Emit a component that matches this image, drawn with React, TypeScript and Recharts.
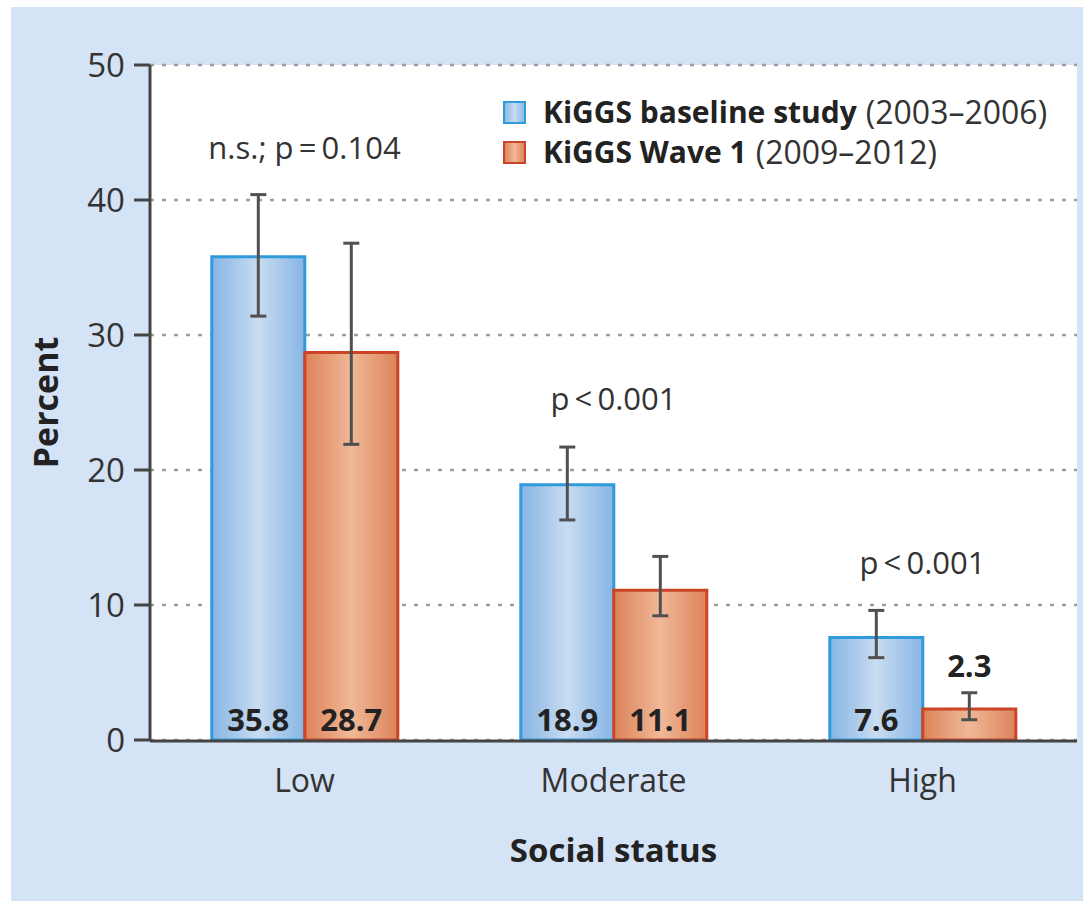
import React from 'react';
import {
  BarChart,
  Bar,
  XAxis,
  YAxis,
  CartesianGrid,
  ErrorBar,
  LabelList,
  Legend,
  ReferenceDot,
} from 'recharts';

const categories = ['Low', 'Moderate', 'High'];
const baselineValues = [35.8, 18.9, 7.6];
const wave1Values = [28.7, 11.1, 2.3];
const baselineCiLow = [31.4, 16.3, 6.1];
const baselineCiHigh = [40.4, 21.7, 9.6];
const wave1CiLow = [21.9, 9.2, 1.5];
const wave1CiHigh = [36.8, 13.6, 3.5];
const pValueLabels = ['n.s.; p\u2009=\u20090.104', 'p\u2009<\u20090.001', 'p\u2009<\u20090.001'];
const pValueHeights = [43.9, 25.3, 13.2];
const yTicks = [0, 10, 20, 30, 40, 50];
const boundaryTicks = [0, 1, 2, 3];

const seriesNames = ['KiGGS baseline study', 'KiGGS Wave 1'];
const seriesPeriods = ['(2003\u20132006)', '(2009\u20132012)'];

const data = categories.map((c, i) => ({
  category: c,
  baseline: baselineValues[i],
  wave1: wave1Values[i],
  baselineErr: [baselineValues[i] - baselineCiLow[i], baselineCiHigh[i] - baselineValues[i]],
  wave1Err: [wave1Values[i] - wave1CiLow[i], wave1CiHigh[i] - wave1Values[i]],
}));

const FONT = '"Open Sans", "Noto Sans", sans-serif';
const TEXT = '#333333';
const AXIS = '#444444';
const BLUE_STROKE = '#2f9bdb';
const ORANGE_STROKE = '#cc4426';

const renderValueLabel = (props: any) => {
  const vb = props.viewBox || props;
  const x = Number(vb.x);
  const y = Number(vb.y);
  const width = Number(vb.width);
  const height = Number(vb.height);
  const value = Number(props.value);
  const cy = value < 5 ? y - 44 : y + height - 21;
  return (
    <text
      x={x + width / 2}
      y={cy}
      textAnchor="middle"
      dominantBaseline="central"
      fill="#222"
      fontFamily={FONT}
      fontWeight={700}
      fontSize={31}
    >
      {value.toFixed(1)}
    </text>
  );
};

const renderLegend = () => (
  <div style={{ fontFamily: FONT, color: '#222', lineHeight: '40px' }}>
    {seriesNames.map((name, i) => (
      <div key={name} style={{ display: 'flex', alignItems: 'center', whiteSpace: 'nowrap' }}>
        <span
          style={{
            display: 'inline-block',
            width: 19,
            height: 19,
            border: `2.5px solid ${i === 0 ? BLUE_STROKE : ORANGE_STROKE}`,
            background:
              i === 0
                ? 'linear-gradient(to right, #8cb9e6, #c8dbf1, #8cb9e6)'
                : 'linear-gradient(to right, #de8660, #f0b797, #de8660)',
            marginRight: 17,
          }}
        />
        <span style={{ fontWeight: 700, fontSize: 30 }}>{name}</span>
        <span style={{ marginLeft: 9, color: '#333', fontSize: 32 }}>{seriesPeriods[i]}</span>
      </div>
    ))}
  </div>
);

export default function App() {
  return (
    <div style={{ position: 'absolute', left: 0, top: 0, width: 1083, height: 901, background: '#fff', overflow: 'hidden' }}>
      <div style={{ position: 'absolute', left: 11, top: 7, right: 0, bottom: 0, background: '#d4e3f5' }} />
      <div style={{ position: 'absolute', left: 0, top: 0 }}>
        <BarChart
          width={1083}
          height={901}
          data={data}
          margin={{ top: 65, right: 6, bottom: 159, left: 0 }}
          barGap={0}
          barCategoryGap="20%"
        >
          <defs>
            <linearGradient id="blueGrad" x1="0" y1="0" x2="1" y2="0">
              <stop offset="0%" stopColor="#86b5e4" />
              <stop offset="50%" stopColor="#c9dcf1" />
              <stop offset="100%" stopColor="#86b5e4" />
            </linearGradient>
            <linearGradient id="orangeGrad" x1="0" y1="0" x2="1" y2="0">
              <stop offset="0%" stopColor="#dc8359" />
              <stop offset="50%" stopColor="#f0b898" />
              <stop offset="100%" stopColor="#dc8359" />
            </linearGradient>
          </defs>
          <CartesianGrid
            xAxisId="cat"
            vertical={false}
            fill="#ffffff"
            stroke="#9d9d9d"
            strokeDasharray="4 8"
            strokeWidth={2.5}
          />
          <XAxis
            xAxisId="num"
            type="number"
            domain={[0, 3]}
            ticks={boundaryTicks}
            tick={false}
            tickSize={15}
            height={1}
            axisLine={{ stroke: AXIS, strokeWidth: 3 }}
            tickLine={{ stroke: AXIS, strokeWidth: 3 }}
          />
          <XAxis
            xAxisId="cat"
            dataKey="category"
            axisLine={false}
            tickLine={false}
            tickSize={15}
            tickMargin={14}
            height={1}
            tick={{ fill: TEXT, fontSize: 32, fontFamily: FONT }}
            label={{
              content: (p: any) => {
                const vb = p.viewBox;
                return (
                  <text
                    x={vb.x + vb.width / 2}
                    y={849}
                    textAnchor="middle"
                    dominantBaseline="central"
                    fill="#222"
                    fontFamily={FONT}
                    fontWeight={700}
                    fontSize={33}
                  >
                    Social status
                  </text>
                );
              },
            }}
          />
          <YAxis
            domain={[0, 50]}
            ticks={yTicks}
            width={150}
            tickSize={16}
            tickMargin={9}
            axisLine={{ stroke: AXIS, strokeWidth: 3 }}
            tickLine={{ stroke: AXIS, strokeWidth: 3 }}
            tick={{ fill: TEXT, fontSize: 33, fontFamily: FONT }}
            label={{
              content: (p: any) => {
                const vb = p.viewBox;
                const cy = vb.y + vb.height / 2;
                return (
                  <text
                    x={45}
                    y={cy}
                    textAnchor="middle"
                    dominantBaseline="central"
                    transform={`rotate(-90, 45, ${cy})`}
                    fill="#222"
                    fontFamily={FONT}
                    fontWeight={700}
                    fontSize={34}
                  >
                    Percent
                  </text>
                );
              },
            }}
          />
          <Legend
            layout="horizontal"
            verticalAlign="middle"
            align="center"
            content={renderLegend}
            wrapperStyle={{ top: 92, left: 503, width: 580 }}
          />
          <Bar
            xAxisId="cat"
            dataKey="baseline"
            fill="url(#blueGrad)"
            stroke={BLUE_STROKE}
            strokeWidth={3}
            isAnimationActive={false}
          >
            <ErrorBar dataKey="baselineErr" width={8} stroke="#505050" strokeWidth={3} />
            <LabelList dataKey="baseline" content={renderValueLabel} />
          </Bar>
          <Bar
            xAxisId="cat"
            dataKey="wave1"
            fill="url(#orangeGrad)"
            stroke={ORANGE_STROKE}
            strokeWidth={3}
            isAnimationActive={false}
          >
            <ErrorBar dataKey="wave1Err" width={8} stroke="#505050" strokeWidth={3} />
            <LabelList dataKey="wave1" content={renderValueLabel} />
          </Bar>
          {categories.map((c, i) => (
            <ReferenceDot
              key={c}
              xAxisId="cat"
              x={c}
              y={pValueHeights[i]}
              r={0}
              stroke="none"
              fill="none"
              label={{
                content: (p: any) => {
                  const vb = p.viewBox;
                  return (
                    <text
                      x={vb.x + (vb.width || 0) / 2}
                      y={vb.y + (vb.height || 0) / 2}
                      textAnchor="middle"
                      dominantBaseline="central"
                      fill={TEXT}
                      fontFamily={FONT}
                      fontSize={31}
                    >
                      {pValueLabels[i]}
                    </text>
                  );
                },
              }}
            />
          ))}
        </BarChart>
      </div>
    </div>
  );
}
